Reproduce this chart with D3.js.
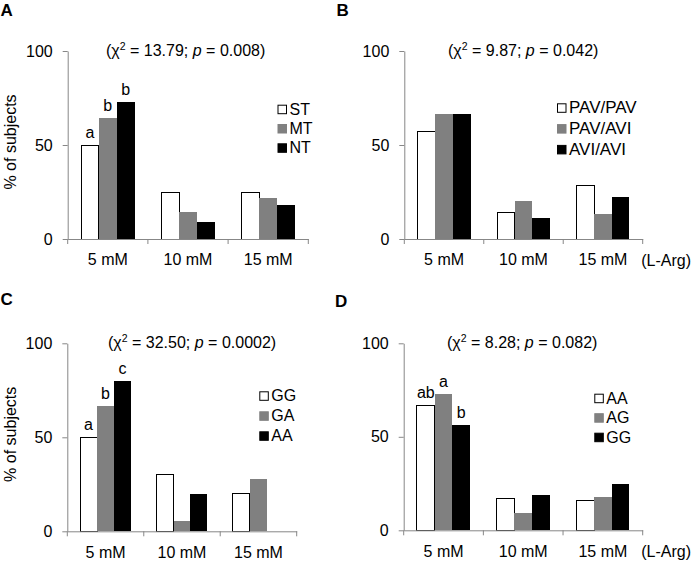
<!DOCTYPE html>
<html>
<head>
<meta charset="utf-8">
<script src="https://cdn.jsdelivr.net/npm/d3@7"></script>
<style>
  html, body { margin: 0; padding: 0; background: #fff; }
  svg { display: block; font-family: "Liberation Sans", Arial, sans-serif; }
</style>
</head>
<body>
<svg id="chart" width="693" height="564"></svg>
<script>
// ---------- data ----------
const categories = ["5 mM", "10 mM", "15 mM"];
const yTicks = [0, 50, 100];

const seriesA = ["ST", "MT", "NT"];
const valuesA = [[50, 25, 25], [64.5, 14.3, 21.6], [73, 9.2, 18.3]];
const lettersA = ["a", "b", "b"];
const chiA = "13.79", pA = "0.008";

const seriesB = ["PAV/PAV", "PAV/AVI", "AVI/AVI"];
const valuesB = [[57.1, 14.3, 28.6], [66.7, 20, 13.3], [66.7, 11.1, 22.2]];
const lettersB = ["", "", ""];
const chiB = "9.87", pB = "0.042";

const seriesC = ["GG", "GA", "AA"];
const valuesC = [[50, 30, 20], [66.7, 5.5, 27.7], [80, 20, 0]];
const lettersC = ["a", "b", "c"];
const chiC = "32.50", pC = "0.0002";

const seriesD = ["AA", "AG", "GG"];
const valuesD = [[67, 16.9, 16.2], [72.7, 9.1, 18.0], [56.1, 19.1, 25.0]];
const lettersD = ["ab", "a", "b"];
const chiD = "8.28", pD = "0.082";

const yLabel = "% of subjects";
const unitLabel = "(L-Arg)";
const panelLetters = ["A", "B", "C", "D"];

// ---------- layout ----------
const fills = ["#ffffff", "#808080", "#000000"];
const axisColor = "#878787";
const FS = 16;

const panels = [
  { series: seriesA, values: valuesA, letters: lettersA, chi: chiA, p: pA,
    x0: 67.7, x1: 308.3, y0: 239, y1: 51, legX: 277.5, legY: 104.7, legStep: 19.3, legFont: 16,
    titleX: 106, lx: 0.5, ly: 15.5, ylab: true, unit: false },
  { series: seriesB, values: valuesB, letters: lettersB, chi: chiB, p: pB,
    x0: 404.3, x1: 642.7, y0: 239, y1: 51, legX: 557, legY: 103.3, legStep: 20.8, legFont: 17,
    titleX: 448, lx: 336.5, ly: 15.5, ylab: false, unit: true },
  { series: seriesC, values: valuesC, letters: lettersC, chi: chiC, p: pC,
    x0: 67.3, x1: 296.7, y0: 531.3, y1: 343.3, legX: 259.3, legY: 391.3, legStep: 20, legFont: 16,
    titleX: 108, lx: 0.5, ly: 305, ylab: true, unit: false },
  { series: seriesD, values: valuesD, letters: lettersD, chi: chiD, p: pD,
    x0: 403.7, x1: 642.7, y0: 530.3, y1: 343.3, legX: 594.3, legY: 393.7, legStep: 19.5, legFont: 16,
    titleX: 447, lx: 335, ly: 307, ylab: false, unit: true }
];

const svg = d3.select("#chart");

panels.forEach((P, pi) => {
  const g = svg.append("g");
  const x = d3.scaleBand().domain(categories).range([P.x0, P.x1]).paddingInner(0).paddingOuter(0);
  const xs = d3.scaleBand().domain(P.series).range([0, x.bandwidth()]).paddingInner(0).paddingOuter(0.75);
  const y = d3.scaleLinear().domain([0, 100]).range([P.y0, P.y1]);

  // bars
  P.series.forEach((s, si) => {
    g.selectAll(null).data(categories).enter().append("rect")
      .attr("x", c => x(c) + xs(s))
      .attr("y", (c, ci) => y(P.values[si][ci]))
      .attr("width", xs.bandwidth())
      .attr("height", (c, ci) => y(0) - y(P.values[si][ci]))
      .attr("fill", fills[si])
      .attr("stroke", si === 0 ? "#000" : "none")
      .attr("stroke-width", si === 0 ? 1 : 0)
      .attr("shape-rendering", "crispEdges");
    const lt = P.letters[si];
    if (lt) {
      g.append("text")
        .attr("x", x(categories[0]) + xs(s) + xs.bandwidth() / 2)
        .attr("y", y(P.values[si][0]) - 7)
        .attr("text-anchor", "middle")
        .attr("font-size", FS)
        .attr("fill", "#000")
        .text(lt);
    }
  });

  // y axis
  const ya = g.append("g").attr("transform", `translate(${P.x0},0)`)
    .call(d3.axisLeft(y).tickValues(yTicks).tickSize(5).tickSizeOuter(0).tickPadding(10));
  ya.selectAll("path, line").attr("stroke", axisColor);
  ya.selectAll("text").attr("font-size", FS).attr("fill", "#000").attr("font-family", null);

  // x axis (labels centered in bands)
  const xa = g.append("g").attr("transform", `translate(0,${P.y0})`)
    .call(d3.axisBottom(x).tickSize(0).tickSizeOuter(0).tickPadding(15));
  xa.select("path").attr("stroke", axisColor);
  xa.selectAll("text").attr("font-size", FS).attr("fill", "#000").attr("font-family", null);
  const bounds = categories.map(c => x(c)).concat([P.x1]);
  g.selectAll(null).data(bounds).enter().append("line")
    .attr("x1", d => d).attr("x2", d => d)
    .attr("y1", P.y0).attr("y2", P.y0 + 5)
    .attr("stroke", axisColor);

  // title
  const t = g.append("text").attr("x", P.titleX).attr("y", P.y1 + 5)
    .attr("font-size", FS).attr("fill", "#000");
  t.append("tspan").text("(\u03C7");
  t.append("tspan").attr("font-size", 10.5).attr("dy", -6.5).text("2");
  t.append("tspan").attr("dy", 6.5).text(` = ${P.chi}; `);
  t.append("tspan").attr("font-style", "italic").text("p");
  t.append("tspan").text(` = ${P.p})`);

  // legend
  P.series.forEach((s, si) => {
    const ly = P.legY + si * P.legStep;
    g.append("rect").attr("x", P.legX + 0.5).attr("y", ly + 0.5)
      .attr("width", 8.5).attr("height", 8.5)
      .attr("fill", fills[si])
      .attr("stroke", si === 0 ? "#000" : fills[si]);
    g.append("text").attr("x", P.legX + 12).attr("y", ly + 9.8)
      .attr("font-size", P.legFont).attr("fill", "#000").text(s);
  });

  // panel letter
  g.append("text").attr("x", P.lx).attr("y", P.ly)
    .attr("font-size", 17).attr("font-weight", "bold").attr("fill", "#000")
    .text(panelLetters[pi]);

  if (P.ylab) {
    const cy = (P.y0 + P.y1) / 2 - 3;
    g.append("text").attr("transform", `translate(16,${cy}) rotate(-90)`)
      .attr("text-anchor", "middle").attr("font-size", FS).attr("fill", "#000")
      .text(yLabel);
  }
  if (P.unit) {
    g.append("text").attr("x", P.x1 - 1.5).attr("y", P.y0 + 26.5)
      .attr("font-size", FS).attr("fill", "#000").text(unitLabel);
  }
});
</script>
</body>
</html>
